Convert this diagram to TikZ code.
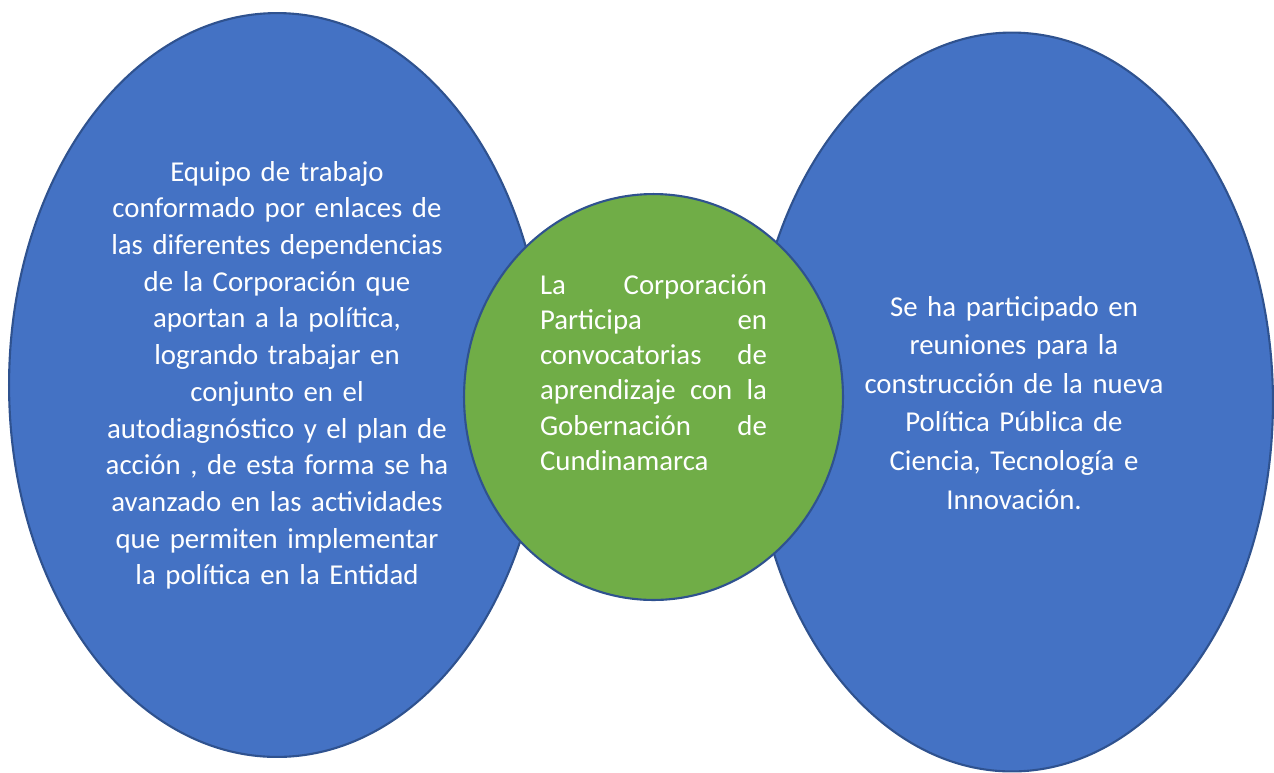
\documentclass[tikz,border=0pt]{standalone}
\usepackage{fontspec}
\setmainfont{Carlito}
\usepackage{xcolor}
\usepackage{tikz}
\usetikzlibrary{shapes}
\definecolor{ovalBlue}{HTML}{4472C4}
\definecolor{ovalGreen}{HTML}{70AD47}
\definecolor{ovalLine}{HTML}{2F528F}
\tikzstyle{tsWhiteText} = [ 
    text=white, 
    font=\fontsize{16.4}{20.9}\selectfont
]
\tikzstyle{tsBlockText} = [ 
    tsWhiteText, 
    anchor=base,
    align=center
]
\tikzstyle{tsOval} = [ 
    ellipse,
    draw=ovalLine,
    line width=1.2pt,
    inner sep=0pt]
\tikzstyle{tsBlueOval} = [tsOval, fill=ovalBlue]
\tikzstyle{tsGreenOval} = [tsOval, fill=ovalGreen]
\newcommand{\jline}[1]{\leavevmode\hbox to \hsize{#1}}
\begin{document}
\begin{tikzpicture}[x=0.02cm, y=-0.02cm]
        
        \useasboundingbox (0,0) rectangle (1274,772);
        
        \node[  tsBlueOval, 
                minimum width=10.72cm,
                minimum height=14.88cm] (ovalLeft) at (277,385) { };
        \node[  tsBlueOval, 
                minimum width=10.44cm,
                minimum height=14.78cm] (ovalRight) at (1012,402) { };
        \node[  tsGreenOval, 
                minimum width=7.58cm,
                minimum height=8.12cm] (ovalMid) at (653.5,397) { };
     	     	
        \node[tsBlockText, text width=7.2cm] (textLeft) at (277,181) {Equipo de trabajo\\
            conformado por enlaces de\\
            las diferentes dependencias\\
            de la Corporación que\\
            aportan a la política,\\
            logrando trabajar en\\
            conjunto en el\\
            autodiagnóstico y el plan de\\
            acción , de esta forma se ha\\
            avanzado en las actividades\\
            que permiten implementar\\
            la política en la Entidad};
            
        \node[tsBlockText, text width=6.4cm,
              font=\fontsize{16.4}{22}\selectfont] (textRight) at (1014,316) {Se ha participado en\\
            reuniones para la\\
            construcción de la nueva\\
            Política Pública de\\
            Ciencia, Tecnología e\\
            Innovación.};
            
        \node[tsBlockText, text width=4.54cm, align=left,
              font=\fontsize{16.4}{20.1}\selectfont] (textMid) at (653.5,294) {\jline{La\hfill Corporación}\\
            \jline{Participa\hfill en}\\
            \jline{convocatorias\hfill de}\\
            \jline{aprendizaje\hfill con\hfill la}\\
            \jline{Gobernación\hfill de}\\
            Cundinamarca};
   	 	
\end{tikzpicture}
\end{document}
